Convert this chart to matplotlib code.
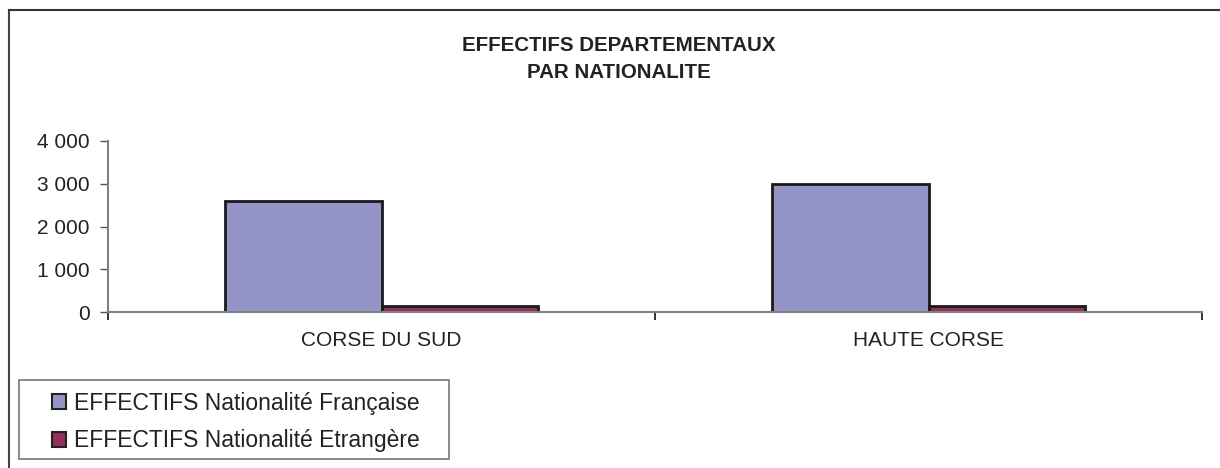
import matplotlib.pyplot as plt
import matplotlib.ticker as mticker
from matplotlib.lines import Line2D
from matplotlib.patches import Patch, Rectangle
import numpy as np

plt.rcParams['font.family'] = ['Liberation Sans', 'DejaVu Sans']

departements = ["CORSE DU SUD", "HAUTE CORSE"]
francais = [2600, 3000]
etrangers = [140, 130]
series_names = ["EFFECTIFS Nationalité Française", "EFFECTIFS Nationalité Etrangère"]
title = "EFFECTIFS DEPARTEMENTAUX\nPAR NATIONALITE"

col_fr = "#9494C8"
col_et = "#94305F"

fig = plt.figure(figsize=(12.2, 4.68), dpi=100)
ax = fig.add_axes([108 / 1220, 1 - 312 / 468, (1202 - 108) / 1220, (312 - 141) / 468])

x = np.arange(len(departements))
w = 0.286
ax.bar(x - w / 2, francais, w, color=col_fr, edgecolor="#1a1a1a", linewidth=2)
ax.bar(x + w / 2, etrangers, w, color=col_et, edgecolor="#1a1a1a", linewidth=2)

ax.set_xlim(-0.5, len(departements) - 0.5)
ax.set_ylim(0, 4000)
ax.yaxis.set_major_locator(mticker.MultipleLocator(1000))
ax.yaxis.set_major_formatter(mticker.FuncFormatter(lambda v, p: f"{int(v):,}".replace(",", " ")))
ax.set_xticks(x)
ax.set_xticklabels(departements)
ax.set_xticks(np.arange(-0.5, len(departements)), minor=True)
ax.tick_params(axis="x", which="major", length=0, pad=14, labelsize=15, labelcolor="#222222")
ax.tick_params(axis="x", which="minor", length=6, width=1.3, color="#222222")
ax.tick_params(axis="y", length=6, width=1, color="#555555", pad=7, labelsize=15, labelcolor="#222222")

for s in ["top", "right"]:
    ax.spines[s].set_visible(False)
for s in ["left", "bottom"]:
    ax.spines[s].set_color("#808080")
    ax.spines[s].set_linewidth(1.5)

fig.text(619 / 1220, 1 - 59 / 468, title, ha="center", va="center",
         fontsize=14.8, fontweight="bold", color="#222222", linespacing=1.5)

# outer chart frame (left and top edges visible)
fig.add_artist(Line2D([8.5 / 1220, 8.5 / 1220], [0, 1 - 9.5 / 468], transform=fig.transFigure,
                      color="#444444", linewidth=1.5))
fig.add_artist(Line2D([8.5 / 1220, 1], [1 - 9.5 / 468, 1 - 9.5 / 468], transform=fig.transFigure,
                      color="#333333", linewidth=1.5))

# legend box
fig.add_artist(Rectangle((19 / 1220, 1 - 459 / 468), (449 - 19) / 1220, (459 - 380) / 468,
                         transform=fig.transFigure, facecolor="white", edgecolor="#777777",
                         linewidth=1.2))
handles = [Patch(facecolor=col_fr, edgecolor="#222222", linewidth=1.5),
           Patch(facecolor=col_et, edgecolor="#222222", linewidth=1.5)]
leg = fig.legend(handles, series_names, loc="center",
                 bbox_to_anchor=(236 / 1220, 1 - 422 / 468),
                 fontsize=16.5, frameon=False,
                 handlelength=0.6, handleheight=0.6, handletextpad=0.35,
                 labelspacing=0.65, borderpad=0, borderaxespad=0)
for t in leg.get_texts():
    t.set_color("#222222")

fig.savefig("out.png", dpi=100)
